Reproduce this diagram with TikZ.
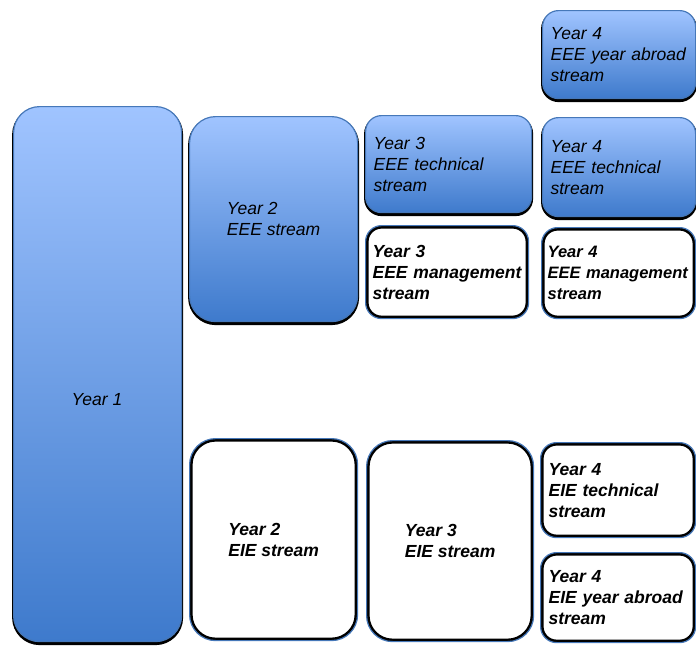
\documentclass[tikz,border=0pt]{standalone}
\usepackage{fontspec}
\setmainfont{Liberation Sans}
\usetikzlibrary{shadows}
\definecolor{boxtop}{RGB}{160,196,255}
\definecolor{boxbottom}{RGB}{62,122,204}
\definecolor{boxborder}{RGB}{70,120,185}
\newcommand{\streamfont}{\fontsize{17.5}{21}\selectfont\itshape}
\tikzset{
	box/.style={rectangle, rounded corners=#1, anchor=north west, inner sep=0pt, line width=1.2pt, draw=boxborder, font=\streamfont},
	bluebox/.style={box=#1, top color=boxtop, bottom color=boxbottom,
		drop shadow={shadow xshift=0pt, shadow yshift=-2pt, opacity=1, fill=black, draw=black, line width=3pt}},
	whitebox/.style={box=#1, fill=white, font=\streamfont\bfseries,
		path picture={\draw[black, line width=6pt, rounded corners=#1] (path picture bounding box.north west) rectangle (path picture bounding box.south east);}},
	padtext/.style={align=left, text width=#1}
}

\begin{document}
\begin{tikzpicture}[x=1pt, y=-1pt]
				\useasboundingbox (0,0) rectangle (696,646);

					\node[bluebox=26pt, minimum width=168pt, minimum height=535pt] (year1) at (13,106) {};
					\node[font=\streamfont] (year1text) at (97,400) {Year 1};

					\node[bluebox=26pt, minimum width=168pt, minimum height=205pt, align=left] (year2eee) at (189,116) {Year 2\\EEE stream};
					\node[whitebox=26pt, minimum width=168pt, minimum height=202pt, align=left] (year2eie) at (189,438) {Year 2\\EIE stream};

					\node[bluebox=16pt, minimum width=166pt, minimum height=97pt, padtext=150pt] (year3tech) at (365,115) {Year 3\\EEE technical\\stream};
					\node[whitebox=16pt, minimum width=163pt, minimum height=93pt, padtext=149pt] (year3mgmt) at (365,225) {Year 3\\\mbox{EEE management}\\stream};
					\node[whitebox=26pt, minimum width=167pt, minimum height=201pt, align=left] (year3eie) at (366,440) {Year 3\\EIE stream};

					\node[bluebox=16pt, minimum width=153pt, minimum height=88pt, padtext=137pt] (year4abroad) at (542,10) {Year 4\\EEE year abroad\\stream};
					\node[bluebox=16pt, minimum width=153pt, minimum height=99pt, padtext=137pt] (year4tech) at (542,117) {Year 4\\EEE technical\\stream};
					\node[whitebox=16pt, minimum width=154pt, minimum height=91pt, padtext=142pt, font=\fontsize{16.5}{21}\selectfont\itshape\bfseries] (year4mgmt) at (541,227) {Year 4\\\mbox{EEE management}\\stream};
					\node[whitebox=16pt, minimum width=155pt, minimum height=95pt, padtext=139pt] (year4eietech) at (540,442) {Year 4\\EIE technical\\stream};
					\node[whitebox=16pt, minimum width=155pt, minimum height=90pt, padtext=139pt] (year4eieabroad) at (540,552) {Year 4\\EIE year abroad\\stream};

				\end{tikzpicture}
\end{document}
